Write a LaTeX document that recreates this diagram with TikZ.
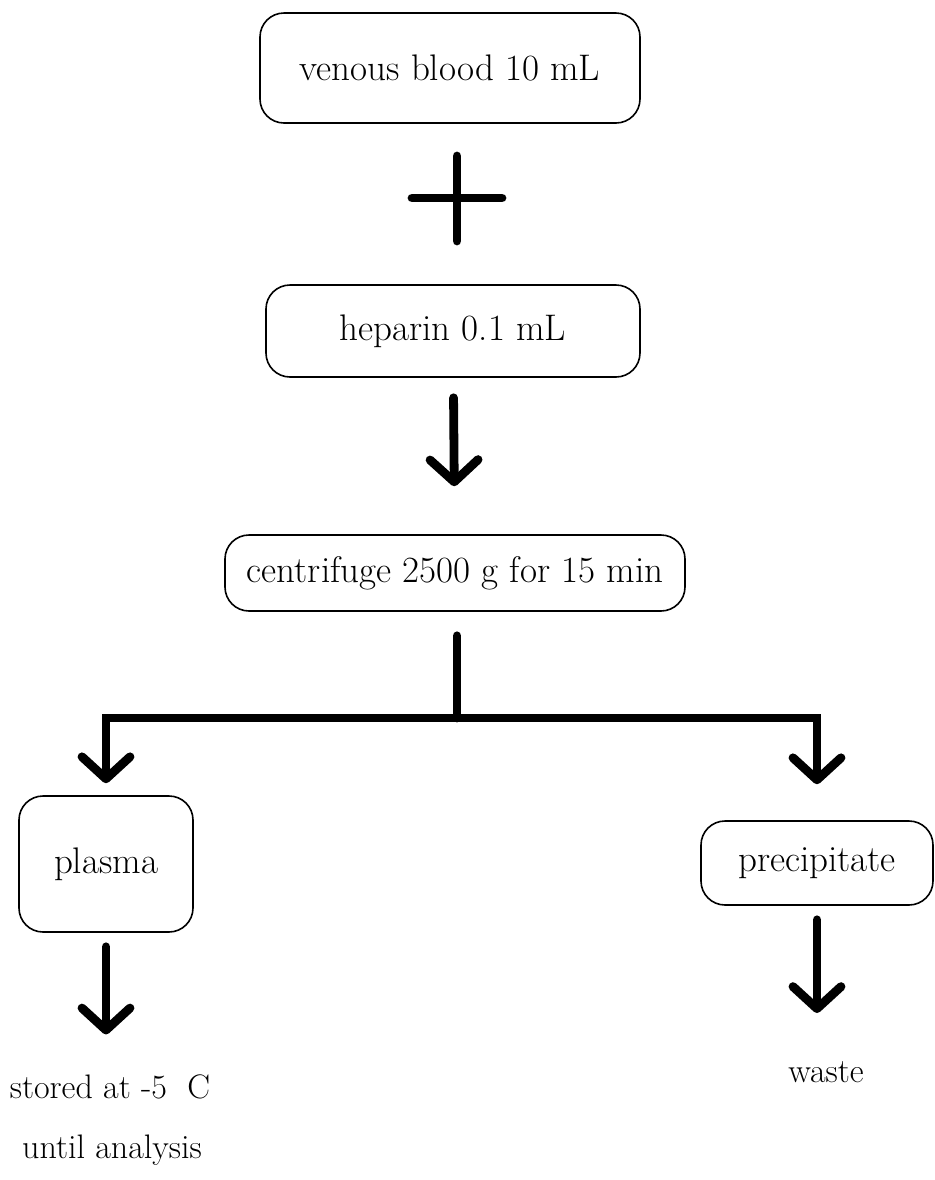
\documentclass[tikz,border=0pt]{standalone}
\usetikzlibrary{arrows.meta}
\newcommand{\txtsize}{\fontsize{17}{20}\selectfont}
\newcommand{\boxsize}{\fontsize{18.5}{22}\selectfont}

\begin{document}
\begin{tikzpicture}[x = 0.5pt, y = -0.5pt,
  box/.style = {draw, rounded corners = 12pt, line width = 0.8pt, inner sep = 0pt, font = \boxsize},
  lbl/.style = {inner sep = 0pt, font = \txtsize},
  heavy/.style = {line width = 4.4pt, line cap = round},
  arr/.style = {heavy, -{Straight Barb[length = 11pt, width = 24pt, round]}}]
\useasboundingbox (0,0) rectangle (934,1180);

\node[box, minimum width = 190pt, minimum height = 55pt] (v1) at (450,68) {venous blood 10 mL};
\node[box, minimum width = 187pt, minimum height = 46pt] (v2) at (453,331) {heparin 0.1 mL};
\node[box, minimum width = 230pt, minimum height = 38pt] (v3) at (455,573) {centrifuge 2500 g for 15 min};
\node[box, minimum width = 87pt, minimum height = 68pt] (v4) at (106,864) {plasma};
\node[box, minimum width = 116pt, minimum height = 42pt] (v5) at (817,863) {precipitate};
\node[lbl] (v6) at (110,1087) {stored at -5\ \ C};
\node[lbl] (v7) at (112,1150) {until analysis};
\node[lbl] (v8) at (826,1072) {waste};

\coordinate (p) at (457,198);
\coordinate (j) at (457,718);

% plus sign between the two volumes
\draw[heavy] (p) ++(0,-42) -- ++(0,85);
\draw[heavy] (p) ++(-45,0) -- ++(90,0);

\draw[arr, shorten <= 10pt, shorten >= 24pt] (v2) -- (v3);
\draw[heavy, shorten <= 12pt] (v3.south -| j) -- (j);
\draw[arr, shorten >= 6pt] (j) -| (v4);
\draw[arr, shorten >= 18pt] (j) -| (v5);
\draw[arr, shorten <= 7pt, shorten >= 20pt] (v4) -- (v4 |- v6.north);
\draw[arr, shorten <= 7pt, shorten >= 24pt] (v5) -- (v5 |- v8.north);
\end{tikzpicture}
\end{document}
